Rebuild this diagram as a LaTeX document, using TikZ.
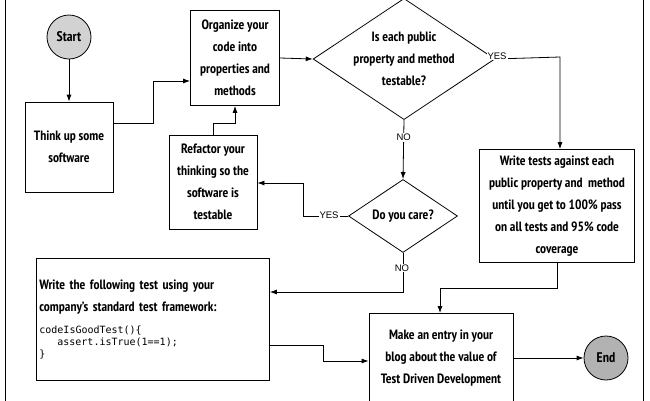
\documentclass[tikz,border=0pt]{standalone}
\usepackage{fontspec}
\setmainfont{PT Sans Narrow}[BoldFont={PT Sans Narrow Bold}]
\newfontfamily\lab{Liberation Sans}
\newfontfamily\cod{DejaVu Sans Mono}
\usetikzlibrary{shapes.geometric,arrows.meta}
\begin{document}
\begin{tikzpicture}[x=1pt,y=-1pt,
  box/.style={draw,thick,align=center,font=\bfseries\fontsize{13.5}{22}\selectfont,inner sep=2pt},
  dia/.style={draw,thick,diamond,aspect=1.5,align=center,font=\bfseries\fontsize{13.5}{22}\selectfont,inner sep=0pt},
  term/.style={draw,thick,circle,minimum size=44pt,font=\bfseries\fontsize{14}{16}\selectfont},
  arr/.style={thick,-{Latex[length=7pt,width=5pt]}},
  lbl/.style={font=\lab\fontsize{9.5}{10}\selectfont,fill=white,inner sep=1pt}]
\useasboundingbox (0,0) rectangle (650,400);
\draw[thick] (5,-5) -- (5,405);
\draw[thick] (643,-5) -- (643,405);
\node[term,fill=gray!35] (start) at (69,37) {Start};
\node[box,minimum width=88pt,minimum height=90pt] (think) at (69,147) {Think up some\\software};
\node[box,minimum width=89pt,minimum height=95pt] (org) at (235,58) {Organize your\\code into\\properties and\\methods};
\node[dia,minimum width=168pt,minimum height=118pt] (d1) at (404,59) {Is each public\\property and method\\testable?};
\node[box,minimum width=155pt,minimum height=113pt] (wt) at (557,206) {Write tests against each\\public property and\ \ method\\until you get to 100\% pass\\on all tests and 95\% code\\coverage};
\node[dia,minimum width=109pt,minimum height=73pt] (d2) at (403,216) {Do you care?};
\node[box,minimum width=88pt,minimum height=94pt] (ref) at (213,182) {Refactor your\\thinking so the\\software is\\testable};
\node[box,minimum width=233pt,minimum height=122pt,anchor=north west,text width=227pt,align=left,font=\bfseries\fontsize{13.5}{22}\selectfont] (wf) at (36,258) {Write the following test using your\\company's standard test framework:\\[10pt]%
{\mdseries\cod\fontsize{10}{12}\selectfont codeIsGoodTest()\{\par\ \ \ \ assert.isTrue(1==1);\par\}\par}};
\node[box,minimum width=144pt,minimum height=90pt] (mk) at (441,358) {Make an entry in your\\blog about the value of\\Test Driven Development};
\node[term,fill=gray!60] (end) at (606,358) {End};
\draw[arr] (start) -- (think);
\draw[arr] (think.east |- 0,123) -- (153,123) |- (org.west |- 0,81);
\draw[arr] (org.east) -- (d1.west);
\draw[arr] (d1.east) -- (560,57) -- (wt.north -| 560,0);
\node[lbl] at (497,56) {YES};
\draw[arr] (d1.south) -- (d2.north) node[lbl,pos=0.3] {NO};
\draw[arr] (d2.west) -- (303,216) |- (ref.east |- 0,183);
\node[lbl] at (329,215) {YES};
\draw[arr] (ref.north) |- (235,123) -- (org.south);
\draw[arr] (d2.south) -- (403,292) -- (wf.east |- 0,292);
\node[lbl] at (402,268) {NO};
\draw[arr] (wf.east |- 0,345) -- (323,345) |- (mk.west |- 0,361);
\draw[arr] (wt.south) -- (557,288) -- (440,288) -- (440,313);
\draw[arr] (mk.east) -- (end);
\end{tikzpicture}
\end{document}
